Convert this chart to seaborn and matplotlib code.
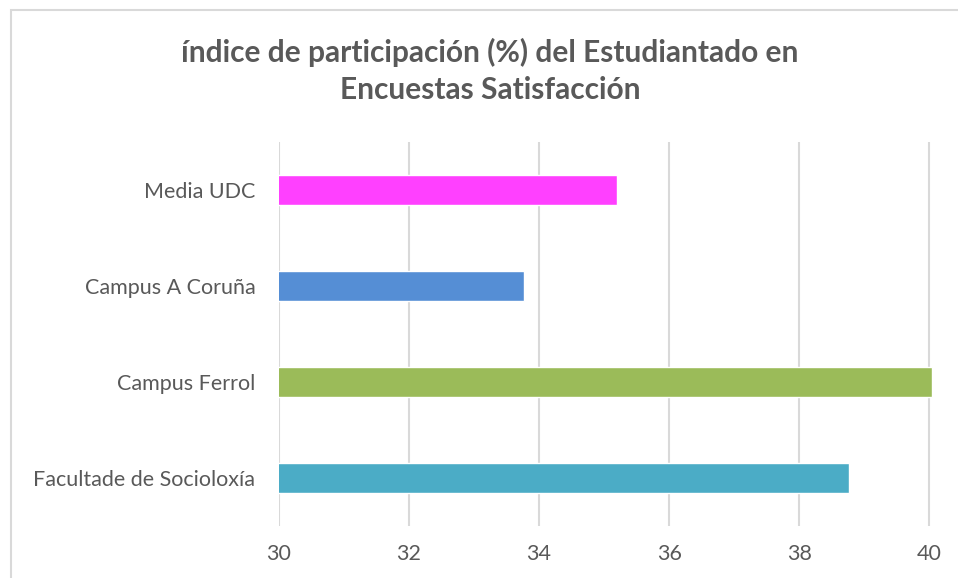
import matplotlib
matplotlib.use("Agg")
import matplotlib.pyplot as plt
import seaborn as sns
import pandas as pd
from matplotlib.patches import Rectangle

# datos
categorias = ["Media UDC", "Campus A Coruña", "Campus Ferrol", "Facultade de Socioloxía"]
valores = [35.2, 33.77, 40.04, 38.77]
colores = ["#FF40FF", "#558ED5", "#9BBB59", "#4BACC6"]
ticks_x = [30, 32, 34, 36, 38, 40]

df = pd.DataFrame({"categoria": categorias, "valor": valores})

sns.set_style("white")
plt.rcParams["font.family"] = ["Lato", "DejaVu Sans"]

W, H = 958, 578
fig = plt.figure(figsize=(W / 100, H / 100), dpi=100)
ax = fig.add_axes([279 / W, 1 - 526 / H, (933 - 279) / W, (526 - 142) / H])

sns.barplot(data=df, x="valor", y="categoria", hue="categoria", palette=colores,
            legend=False, width=0.31, ax=ax, orient="h", saturation=1)

ax.set_xlim(30, 40.06)
ax.set_xticks(ticks_x)
ax.set_xlabel("")
ax.set_ylabel("")
ax.grid(axis="x", color="#D9D9D9", linewidth=1.5)
ax.set_axisbelow(True)
for s in ax.spines.values():
    s.set_visible(False)
ax.tick_params(axis="x", length=0, pad=13, labelsize=15.5, labelcolor="#595959")
ax.tick_params(axis="y", length=0, pad=17, labelsize=15.5, labelcolor="#595959")

fig.text(490 / W, 1 - 52 / H, "índice de participación (%) del Estudiantado en",
         ha="center", va="center", fontsize=21.5, fontweight="bold", color="#595959")
fig.text(490 / W, 1 - 90 / H, "Encuestas Satisfacción",
         ha="center", va="center", fontsize=21.5, fontweight="bold", color="#595959")

# borde del área del gráfico
fig.patches.append(Rectangle((11 / W, -0.1), 1.2, 1 - 10 / H + 0.1,
                             transform=fig.transFigure, fill=False,
                             edgecolor="#D9D9D9", linewidth=1.5))

fig.savefig("out.png", dpi=100)
